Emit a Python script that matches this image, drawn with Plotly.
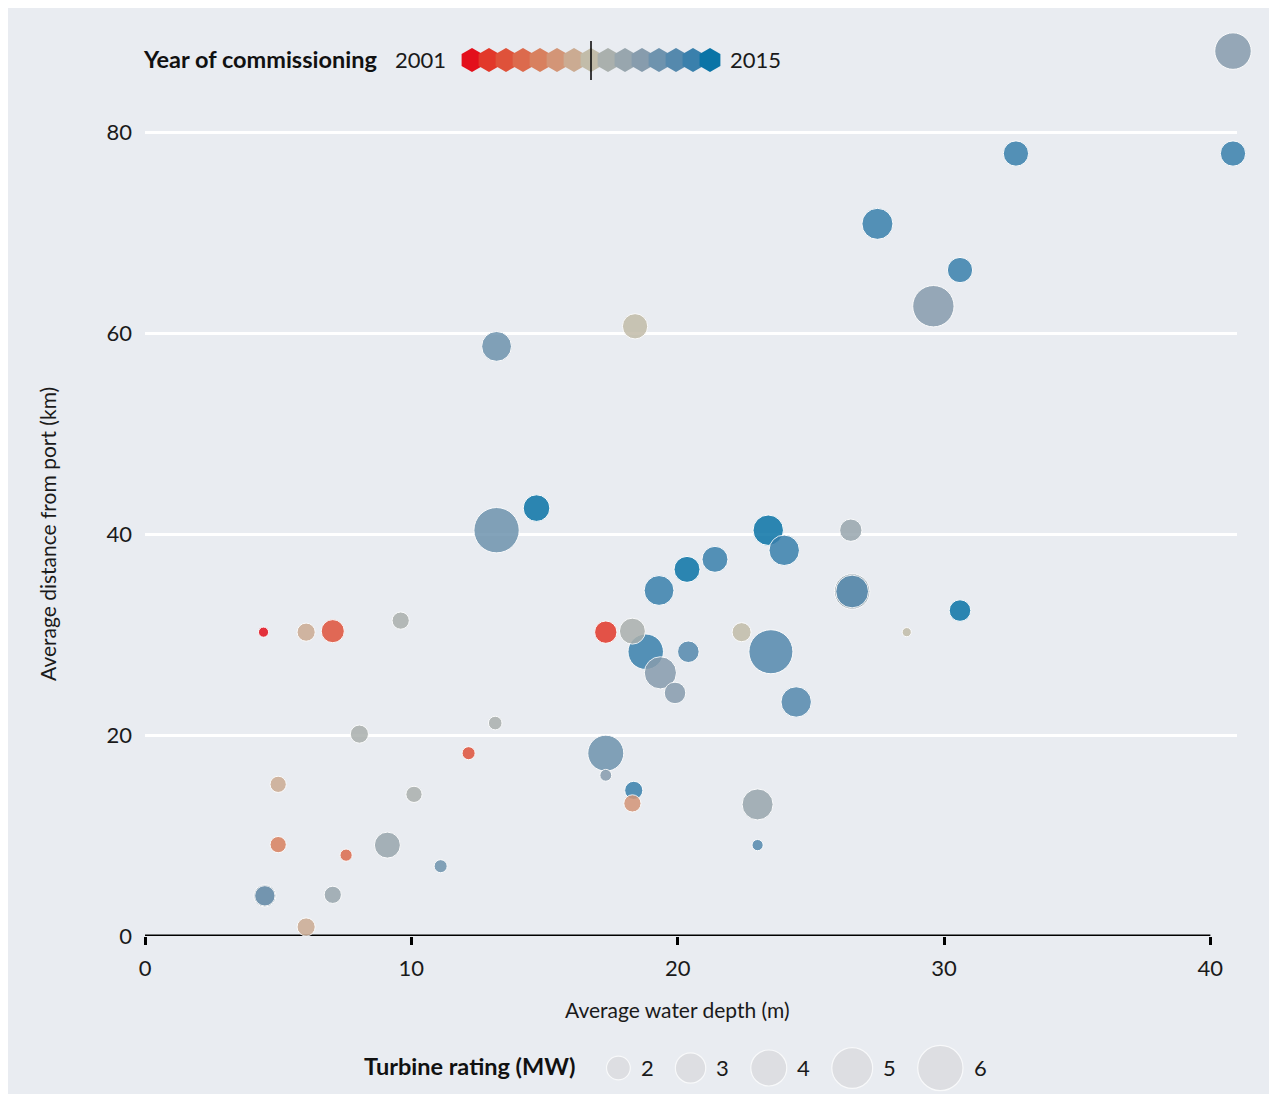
import plotly.graph_objects as go
import pandas as pd
import numpy as np

# page body keeps an 8px margin, so the figure is that much smaller than the window
OFF = 8
W, H = 1277 - OFF, 1094 - OFF
FONT = 'Lato'
INK = '#1a1a1a'
PANEL = '#e9ecf1'

# Year of commissioning colour steps (legend)
YEARS = list(range(2001, 2016))
YEAR_COLORS = ['#e3101c', '#e2382a', '#df523a', '#dc6a4d', '#d8805f', '#d39577', '#cbab92',
               '#c2bca9', '#aab0ad', '#98a6ae', '#879cad', '#6e93ae', '#5589ad', '#3a80ac', '#0a74a6']

# Offshore wind farms
depth = [40.85, 40.85, 32.7, 27.5, 30.6, 29.6, 18.4, 13.2, 14.7, 13.2,
         23.4, 24.0, 21.4, 20.35, 19.3, 26.5, 26.55, 26.55, 30.6, 28.6,
         17.3, 18.3, 18.8, 19.35, 19.9, 20.4, 22.4, 23.5, 24.45, 17.3,
         17.3, 18.35, 18.3, 23.0, 23.0, 4.45, 6.05, 7.05, 9.6, 8.05,
         13.15, 12.15, 5.0, 10.1, 5.0, 7.55, 9.1, 11.1, 4.5, 4.5,
         7.05, 6.05]
distance = [88.1, 77.9, 77.9, 70.9, 66.3, 62.7, 60.7, 58.7, 42.6, 40.4,
            40.4, 38.4, 37.5, 36.5, 34.4, 40.4, 34.3, 34.3, 32.4, 30.25,
            30.25, 30.35, 28.3, 26.2, 24.2, 28.3, 30.25, 28.3, 23.3, 18.2,
            16.0, 14.5, 13.2, 13.1, 9.05, 30.25, 30.25, 30.35, 31.4, 20.1,
            21.2, 18.2, 15.1, 14.1, 9.1, 8.05, 9.05, 6.95, 4.0, 4.0,
            4.1, 0.9]
year = [2011, 2014, 2014, 2014, 2014, 2011, 2008, 2012, 2015, 2012,
        2015, 2014, 2014, 2015, 2014, 2010, 2010, 2013, 2015, 2008,
        2002, 2009, 2014, 2011, 2011, 2013, 2008, 2013, 2013, 2012,
        2011, 2014, 2006, 2010, 2013, 2001, 2007, 2003, 2009, 2009,
        2009, 2003, 2007, 2009, 2005, 2004, 2010, 2012, 2011, 2012,
        2010, 2007]
rating = [4.1, 2.2, 2.2, 3.1, 2.2, 5.1, 2.2, 2.9, 2.4, 6.0,
          3.0, 3.0, 2.3, 2.3, 2.9, 1.8, 3.9, 3.4, 1.7, 0.5,
          1.8, 2.3, 3.9, 3.3, 1.7, 1.7, 1.4, 5.7, 3.0, 4.0,
          0.7, 1.3, 1.2, 3.1, 0.65, 0.57, 1.3, 1.9, 1.2, 1.3,
          0.85, 0.8, 1.1, 1.1, 1.1, 0.73, 2.3, 0.8, 1.8, 1.55,
          1.2, 1.3]

LEGEND_RATINGS = [2, 3, 4, 5, 6]
X_TICKS = [0, 10, 20, 30, 40]
Y_TICKS = [0, 20, 40, 60, 80]


def marker_size(mw):
  return 20.75 * np.sqrt(mw) - 5.5


# screen pixel -> paper fraction
def px(x):
  return (x - OFF) / W


def py(y):
  return 1 - (y - OFF) / H


df = pd.DataFrame(dict(depth=depth, distance=distance, year=year, rating=rating))
df = df.sort_values('rating', ascending=False, kind='stable')
color_of = dict(zip(YEARS, YEAR_COLORS))

fig = go.Figure()

# Farms
fig.add_trace(go.Scatter(
  x=df['depth'], y=df['distance'],
  mode='markers',
  marker=dict(
    size=marker_size(df['rating']),
    color=[color_of[y] for y in df['year']],
    opacity=0.85,
    line=dict(color='white', width=1)
  ),
  cliponaxis=False,
  showlegend=False,
  hovertemplate='Depth %{x} m<br>Distance %{y} km<extra></extra>'
))

# Year legend (hexagon strip)
hex_x = [472 + (y - YEARS[0]) * 17 for y in YEARS]
fig.add_trace(go.Scatter(
  x=hex_x, y=[60] * len(YEARS),
  xaxis='x2', yaxis='y2',
  mode='markers',
  marker=dict(symbol='hexagon', size=24, color=YEAR_COLORS, line=dict(width=0)),
  cliponaxis=False, showlegend=False, hoverinfo='skip'
))

# Size legend
sizes = [marker_size(r) + 1 for r in LEGEND_RATINGS]
cx, label_x, left = [], [], 606
for d in sizes:
  c = left + d / 2
  cx.append(c)
  label_x.append(c + d / 2 + 8)
  left = c + d / 2 + 8 + 12 + 24
fig.add_trace(go.Scatter(
  x=cx, y=[1068] * len(LEGEND_RATINGS),
  xaxis='x2', yaxis='y2',
  mode='markers',
  marker=dict(size=marker_size(np.array(LEGEND_RATINGS)), color='#d8d9dc',
              line=dict(color='white', width=1.2)),
  cliponaxis=False, showlegend=False, hoverinfo='skip'
))

annotations = [
  dict(x=px(379), y=py(59), text='<b>Year of commissioning</b>', xanchor='right',
       font=dict(size=23.5, color='#111111')),
  dict(x=px(448), y=py(60), text='2001', xanchor='right', font=dict(size=22, color=INK)),
  dict(x=px(728), y=py(60), text='2015', xanchor='left', font=dict(size=22, color=INK)),
  dict(x=px(577), y=py(1066), text='<b>Turbine rating (MW)</b>', xanchor='right',
       font=dict(size=23.5, color='#111111')),
  dict(x=px(677), y=py(1009), text='Average water depth (m)', xanchor='center',
       font=dict(size=21, color=INK)),
  dict(x=px(47), y=py(534), text='Average distance from port (km)', textangle=-90,
       xanchor='center', font=dict(size=21, color=INK)),
]
for r, lx in zip(LEGEND_RATINGS, label_x):
  annotations.append(dict(x=px(lx), y=py(1067), text=str(r), xanchor='left',
                          font=dict(size=22, color=INK)))
for a in annotations:
  a.update(xref='paper', yref='paper', showarrow=False, yanchor='middle')

shapes = [
  # x axis line
  dict(type='line', xref='x', yref='y', x0=X_TICKS[0], x1=X_TICKS[-1], y0=0, y1=0,
       line=dict(color='black', width=3), layer='between'),
  # middle of the year scale
  dict(type='line', xref='x2', yref='y2', x0=hex_x[7], x1=hex_x[7], y0=41, y1=80,
       line=dict(color='black', width=1.5)),
]

fig.update_layout(
  width=W, height=H,
  margin=dict(l=0, r=0, t=0, b=0, autoexpand=False),
  paper_bgcolor=PANEL,
  plot_bgcolor='rgba(0,0,0,0)',
  font=dict(family=FONT, color=INK),
  showlegend=False,
  xaxis=dict(
    domain=[px(145), px(1237)], range=[0, 41],
    tickvals=X_TICKS, ticks='outside', ticklen=8, tickwidth=3, tickcolor='black',
    tickfont=dict(size=22, color=INK), ticklabelstandoff=5,
    showgrid=False, zeroline=False, showline=False, fixedrange=True
  ),
  yaxis=dict(
    domain=[py(936), py(32)], range=[0, 90],
    tickvals=Y_TICKS, ticks='', tickfont=dict(size=22, color=INK),
    ticklabelstandoff=12,
    showgrid=True, gridcolor='white', gridwidth=2.5,
    zeroline=False, showline=False, fixedrange=True
  ),
  xaxis2=dict(domain=[0, 1], range=[OFF, OFF + W], visible=False, fixedrange=True, anchor='y2'),
  yaxis2=dict(domain=[0, 1], range=[OFF + H, OFF], visible=False, fixedrange=True, anchor='x2'),
  annotations=annotations,
  shapes=shapes
)

fig.write_html('out.html', config=dict(displayModeBar=False))
